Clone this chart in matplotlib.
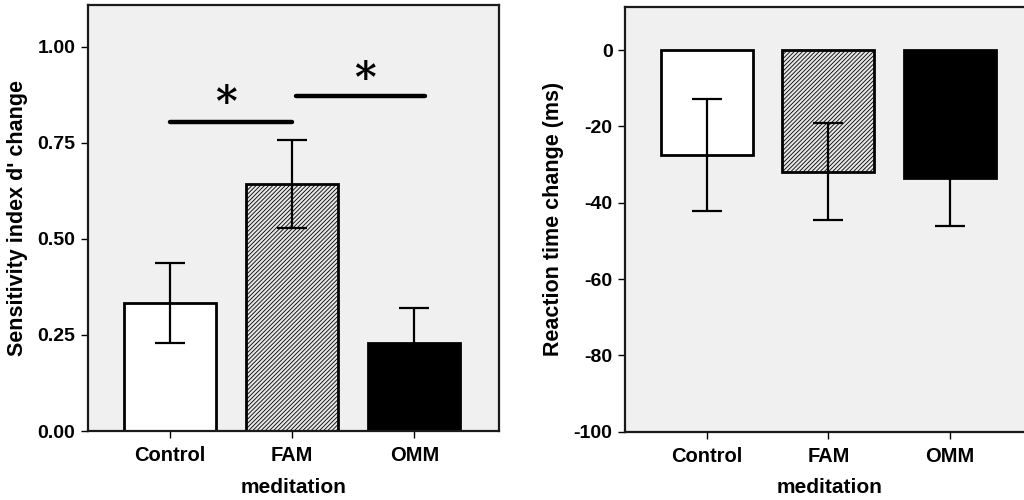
import matplotlib
matplotlib.use('Agg')
import matplotlib.pyplot as plt

plt.rcParams['font.family'] = ['Liberation Sans', 'DejaVu Sans']
plt.rcParams['font.weight'] = 'bold'
plt.rcParams['hatch.linewidth'] = 0.6

groups = ['Control', 'FAM', 'OMM']

dprime_mean = [0.334, 0.643, 0.230]
dprime_err = [0.104, 0.115, 0.090]

rt_mean = [-27.5, -31.9, -33.4]
rt_err = [14.6, 12.7, 12.7]

dprime_ticks = [0.0, 0.25, 0.50, 0.75, 1.00]
rt_ticks = [0, -20, -40, -60, -80, -100]

# significance brackets: (x start, x end, y)
sig_lines = [(0.0, 1.0, 0.805), (1.03, 2.09, 0.873)]
sig_stars = [(0.46, 0.852), (1.60, 0.914)]

fills = ['white', '#e6e6e6', 'black']
hatches = ['', '////////', '']

fig = plt.figure(figsize=(10.24, 5.0), dpi=100)
ax1 = fig.add_axes([0.0859, 0.138, 0.401, 0.852])
ax2 = fig.add_axes([0.6104, 0.1366, 0.3994, 0.8494])


def style(ax):
    ax.set_facecolor('#f0f0f0')
    for s in ax.spines.values():
        s.set_linewidth(1.6)
        s.set_color('#1a1a1a')
    ax.set_xlim(-0.67, 2.69)
    ax.set_xticks(range(len(groups)))
    ax.set_xticklabels(groups, fontsize=14.5, fontweight='bold')
    ax.tick_params(axis='x', length=5, width=1, pad=6)
    ax.tick_params(axis='y', length=5, width=1, pad=4, labelsize=14)
    ax.set_xlabel('meditation', fontsize=15, fontweight='bold', labelpad=9)


def draw_bars(ax, means, errs):
    x = range(len(groups))
    for i in x:
        ax.bar(i, means[i], width=0.755, color=fills[i], hatch=hatches[i],
               edgecolor='black', linewidth=2, zorder=2)
    ax.errorbar(x, means, yerr=errs, fmt='none', ecolor='black',
                elinewidth=1.6, capsize=10.5, capthick=1.6, zorder=3)


style(ax1)
draw_bars(ax1, dprime_mean, dprime_err)
ax1.set_ylim(0, 1.109)
ax1.set_yticks(dprime_ticks)
ax1.set_yticklabels([f'{t:.2f}' for t in dprime_ticks])
ax1.set_ylabel("Sensitivity index d' change", fontsize=15.5, fontweight='bold', labelpad=7)
for x0, x1, y in sig_lines:
    ax1.plot([x0, x1], [y, y], color='black', linewidth=3.2,
             solid_capstyle='round', zorder=4)
for x, y in sig_stars:
    ax1.text(x, y, '*', ha='center', va='center', fontsize=30,
             fontweight='bold', family='DejaVu Serif', zorder=4)

style(ax2)
draw_bars(ax2, rt_mean, rt_err)
ax2.set_ylim(-100, 11.3)
ax2.set_yticks(rt_ticks)
ax2.set_yticklabels([str(t) for t in rt_ticks])
ax2.set_ylabel('Reaction time change (ms)', fontsize=15.5, fontweight='bold', labelpad=7)

fig.savefig('out.png', dpi=100, facecolor='white')
